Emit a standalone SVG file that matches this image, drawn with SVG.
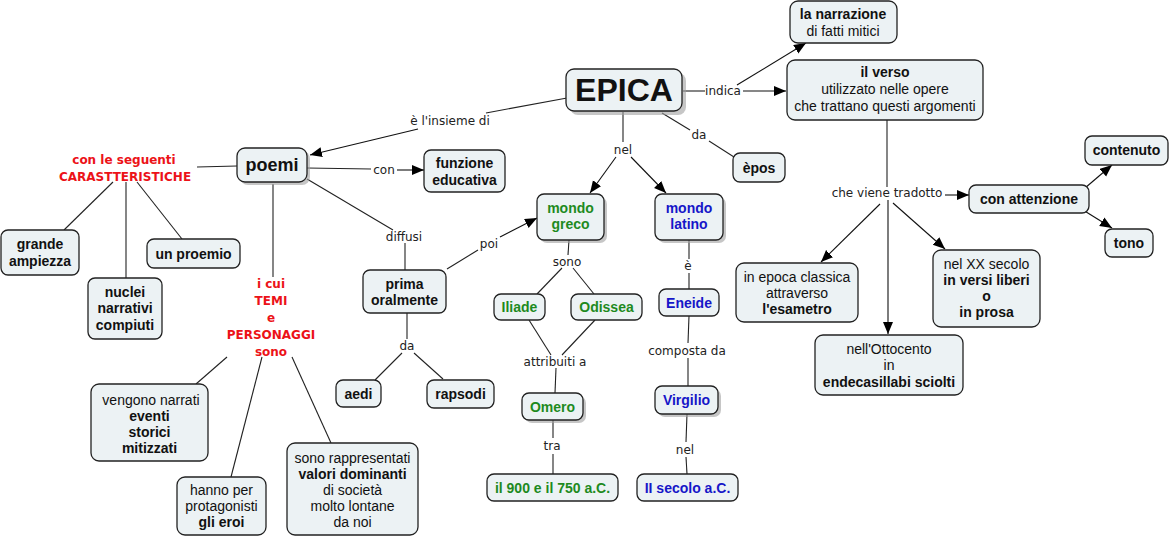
<svg xmlns="http://www.w3.org/2000/svg" width="1171" height="541" viewBox="0 0 1171 541">
<defs>
<marker id="arr" markerUnits="userSpaceOnUse" markerWidth="13" markerHeight="11" refX="12" refY="5" orient="auto">
<path d="M0,0 L12,5 L0,10 z" fill="#000"/>
</marker>
<style>
.n{fill:#ecf2f4;stroke:#222;stroke-width:1.3}
.sh{fill:#a0a0a0;opacity:0.6}
.t{font-family:"Liberation Sans",Arial,sans-serif;font-size:14px;fill:#111;text-anchor:middle}
.b{font-weight:bold}
.g{fill:#1e8a1e}
.bl{fill:#1616c8}
.l{font-family:"DejaVu Sans",Verdana,sans-serif;font-size:12px;fill:#222;text-anchor:middle}
.r{font-family:"DejaVu Sans",Verdana,sans-serif;font-size:12px;font-weight:bold;fill:#ec1218;text-anchor:middle}
.c{fill:none;stroke:#222;stroke-width:1.1}
.a{fill:none;stroke:#111;stroke-width:1.1;marker-end:url(#arr)}
</style>
</defs>
<rect width="1171" height="541" fill="#fff"/>

<g id="connectors">
<!-- EPICA -> poemi -->
<line class="c" x1="567" y1="98" x2="486" y2="113"/>
<line class="a" x1="418" y1="129" x2="310" y2="155"/>
<text class="l" x="450" y="125">è l'insieme di</text>
<!-- indica -->
<line class="c" x1="683" y1="91" x2="705" y2="91"/>
<line class="a" x1="743" y1="91" x2="786" y2="91"/>
<line class="a" x1="737" y1="85" x2="806" y2="43"/>
<text class="l" x="723" y="95">indica</text>
<!-- nel -->
<line class="c" x1="623" y1="112" x2="623" y2="142"/>
<line class="a" x1="616" y1="157" x2="590" y2="193"/>
<line class="a" x1="631" y1="157" x2="666" y2="193"/>
<text class="l" x="623" y="154">nel</text>
<!-- da epos -->
<line class="c" x1="662" y1="113" x2="690" y2="130"/>
<line class="c" x1="709" y1="141" x2="734" y2="157"/>
<text class="l" x="699" y="139">da</text>
<!-- con -->
<line class="c" x1="307" y1="168" x2="371" y2="169"/>
<line class="a" x1="397" y1="170" x2="424" y2="170"/>
<text class="l" x="384" y="174">con</text>
<!-- caratteristiche -->
<line class="c" x1="237" y1="166" x2="197" y2="167"/>
<line class="c" x1="113" y1="182" x2="64" y2="230"/>
<line class="c" x1="126" y1="182" x2="126" y2="278"/>
<line class="c" x1="137" y1="182" x2="182" y2="239"/>
<text class="r" x="124" y="164">con le seguenti</text>
<text class="r" x="125" y="181">CARASTTERISTICHE</text>
<!-- temi -->
<line class="c" x1="273" y1="184" x2="273" y2="277"/>
<line class="c" x1="227" y1="357" x2="196" y2="384"/>
<line class="c" x1="262" y1="357" x2="231" y2="477"/>
<line class="c" x1="292" y1="357" x2="331" y2="443"/>
<text class="r" x="271" y="288">i cui</text>
<text class="r" x="271" y="305">TEMI</text>
<text class="r" x="271" y="322">e</text>
<text class="r" x="271" y="339">PERSONAGGI</text>
<text class="r" x="271" y="356">sono</text>
<!-- diffusi -->
<line class="c" x1="307" y1="179" x2="393" y2="230"/>
<line class="c" x1="405" y1="243" x2="405" y2="270"/>
<text class="l" x="404" y="241">diffusi</text>
<!-- poi -->
<line class="c" x1="447" y1="269" x2="478" y2="250"/>
<line class="a" x1="500" y1="237" x2="537" y2="218"/>
<text class="l" x="489" y="248">poi</text>
<!-- da aedi rapsodi -->
<line class="c" x1="407" y1="313" x2="407" y2="339"/>
<line class="c" x1="402" y1="353" x2="375" y2="380"/>
<line class="c" x1="414" y1="353" x2="443" y2="379"/>
<text class="l" x="407" y="350">da</text>
<!-- sono -->
<line class="c" x1="569" y1="240" x2="568" y2="255"/>
<line class="c" x1="562" y1="268" x2="537" y2="294"/>
<line class="c" x1="573" y1="268" x2="594" y2="294"/>
<text class="l" x="567" y="266">sono</text>
<!-- attribuiti a -->
<line class="c" x1="529" y1="320" x2="551" y2="355"/>
<line class="c" x1="595" y1="320" x2="562" y2="355"/>
<line class="c" x1="556" y1="368" x2="555" y2="393"/>
<text class="l" x="555" y="366">attribuiti a</text>
<!-- tra -->
<line class="c" x1="553" y1="420" x2="553" y2="438"/>
<line class="c" x1="553" y1="454" x2="553" y2="474"/>
<text class="l" x="552" y="450">tra</text>
<!-- è -->
<line class="c" x1="689" y1="240" x2="689" y2="259"/>
<line class="c" x1="689" y1="273" x2="689" y2="289"/>
<text class="l" x="688" y="270">è</text>
<!-- composta da -->
<line class="c" x1="689" y1="316" x2="688" y2="343"/>
<line class="c" x1="688" y1="358" x2="688" y2="386"/>
<text class="l" x="687" y="355">composta da</text>
<!-- nel II secolo -->
<line class="c" x1="687" y1="414" x2="686" y2="442"/>
<line class="c" x1="686" y1="457" x2="687" y2="474"/>
<text class="l" x="685" y="454">nel</text>
<!-- che viene tradotto -->
<line class="c" x1="887" y1="120" x2="887" y2="187"/>
<line class="a" x1="945" y1="195" x2="969" y2="195"/>
<line class="a" x1="880" y1="204" x2="821" y2="262"/>
<line class="a" x1="888" y1="200" x2="888" y2="334"/>
<line class="a" x1="893" y1="203" x2="945" y2="249"/>
<text class="l" x="887" y="197">che viene tradotto</text>
<!-- con attenzione -->
<line class="a" x1="1085" y1="188" x2="1112" y2="165"/>
<line class="a" x1="1083" y1="210" x2="1112" y2="228"/>
</g>

<g id="n-epica">
<rect class="sh" x="570" y="73" width="116" height="42" rx="8"/>
<rect class="n" x="566" y="69" width="116" height="42" rx="8"/>
<text class="t b" x="624" y="101" style="font-size:32px">EPICA</text>
</g>
<g id="n-narrazione">
<rect class="n" x="790" y="1" width="107" height="42" rx="8"/>
<text class="t b" x="843" y="19">la narrazione</text>
<text class="t" x="843" y="36">di fatti mitici</text>
</g>
<g id="n-verso">
<rect class="n" x="787" y="60" width="196" height="60" rx="8"/>
<text class="t b" x="885" y="77">il verso</text>
<text class="t" x="885" y="94">utilizzato nelle opere</text>
<text class="t" x="885" y="111">che trattano questi argomenti</text>
</g>
<g id="n-epos">
<rect class="n" x="733" y="153" width="52" height="29" rx="7"/>
<text class="t b" x="759" y="173">èpos</text>
</g>
<g id="n-poemi">
<rect class="sh" x="240" y="151" width="70" height="34" rx="8"/>
<rect class="n" x="237" y="148" width="70" height="34" rx="8"/>
<text class="t b" x="272" y="171" style="font-size:18px">poemi</text>
</g>
<g id="n-funzione">
<rect class="n" x="424" y="150" width="81" height="42" rx="7"/>
<text class="t b" x="464.5" y="168">funzione</text>
<text class="t b" x="464.5" y="185">educativa</text>
</g>
<g id="n-grande">
<rect class="n" x="1" y="230" width="78" height="45" rx="7"/>
<text class="t b" x="40" y="249">grande</text>
<text class="t b" x="40" y="266">ampiezza</text>
</g>
<g id="n-proemio">
<rect class="n" x="147" y="239" width="93" height="29" rx="7"/>
<text class="t b" x="193.5" y="259">un proemio</text>
</g>
<g id="n-nuclei">
<rect class="n" x="88" y="278" width="74" height="61" rx="7"/>
<text class="t b" x="125" y="297">nuclei</text>
<text class="t b" x="125" y="313">narrativi</text>
<text class="t b" x="125" y="330">compiuti</text>
</g>
<g id="n-greco">
<rect class="sh" x="540" y="197" width="67" height="46" rx="7"/>
<rect class="n" x="537" y="194" width="67" height="46" rx="7"/>
<text class="t b g" x="570.5" y="213">mondo</text>
<text class="t b g" x="570.5" y="229">greco</text>
</g>
<g id="n-latino">
<rect class="sh" x="658" y="197" width="68" height="46" rx="7"/>
<rect class="n" x="655" y="194" width="68" height="46" rx="7"/>
<text class="t b bl" x="689" y="213">mondo</text>
<text class="t b bl" x="689" y="229">latino</text>
</g>
<g id="n-prima">
<rect class="n" x="363" y="270" width="83" height="43" rx="7"/>
<text class="t b" x="404.5" y="289">prima</text>
<text class="t b" x="404.5" y="305">oralmente</text>
</g>
<g id="n-aedi">
<rect class="n" x="336" y="380" width="45" height="27" rx="7"/>
<text class="t b" x="358.5" y="399">aedi</text>
</g>
<g id="n-rapsodi">
<rect class="n" x="427" y="380" width="67" height="28" rx="7"/>
<text class="t b" x="460.5" y="399">rapsodi</text>
</g>
<g id="n-iliade">
<rect class="n" x="494" y="294" width="51" height="26" rx="7"/>
<text class="t b g" x="519.5" y="312">Iliade</text>
</g>
<g id="n-odissea">
<rect class="n" x="571" y="294" width="71" height="26" rx="7"/>
<text class="t b g" x="606.5" y="312">Odissea</text>
</g>
<g id="n-eneide">
<rect class="n" x="659" y="289" width="60" height="27" rx="7"/>
<text class="t b bl" x="689" y="308">Eneide</text>
</g>
<g id="n-omero">
<rect class="sh" x="525" y="396" width="61" height="27" rx="7"/>
<rect class="n" x="522" y="393" width="61" height="27" rx="7"/>
<text class="t b g" x="552.5" y="412">Omero</text>
</g>
<g id="n-virgilio">
<rect class="sh" x="658" y="389" width="63" height="28" rx="7"/>
<rect class="n" x="655" y="386" width="63" height="28" rx="7"/>
<text class="t b bl" x="686.5" y="405">Virgilio</text>
</g>
<g id="n-900">
<rect class="n" x="487" y="474" width="131" height="27" rx="7"/>
<text class="t b g" x="552.5" y="493">il 900 e il 750 a.C.</text>
</g>
<g id="n-secolo">
<rect class="n" x="637" y="474" width="101" height="27" rx="7"/>
<text class="t b bl" x="687.5" y="493">II secolo a.C.</text>
</g>
<g id="n-vengono">
<rect class="n" x="91" y="384" width="117" height="77" rx="8"/>
<text class="t" x="151" y="405">vengono narrati</text>
<text class="t b" x="149.5" y="421">eventi</text>
<text class="t b" x="149.5" y="437">storici</text>
<text class="t b" x="149.5" y="453">mitizzati</text>
</g>
<g id="n-hanno">
<rect class="n" x="177" y="477" width="89" height="58" rx="8"/>
<text class="t" x="221.5" y="495">hanno per</text>
<text class="t" x="221.5" y="511">protagonisti</text>
<text class="t b" x="221.5" y="527">gli eroi</text>
</g>
<g id="n-sono">
<rect class="n" x="287" y="443" width="131" height="92" rx="8"/>
<text class="t" x="352.5" y="463">sono rappresentati</text>
<text class="t b" x="352.5" y="479">valori dominanti</text>
<text class="t" x="352.5" y="495">di società</text>
<text class="t" x="352.5" y="511">molto lontane</text>
<text class="t" x="352.5" y="527">da noi</text>
</g>
<g id="n-attenzione">
<rect class="n" x="969" y="185" width="120" height="28" rx="7"/>
<text class="t b" x="1029" y="204">con attenzione</text>
</g>
<g id="n-contenuto">
<rect class="n" x="1085" y="136" width="83" height="29" rx="7"/>
<text class="t b" x="1126.5" y="155">contenuto</text>
</g>
<g id="n-tono">
<rect class="n" x="1105" y="229" width="48" height="28" rx="7"/>
<text class="t b" x="1129" y="248">tono</text>
</g>
<g id="n-classica">
<rect class="n" x="736" y="263" width="122" height="59" rx="8"/>
<text class="t" x="797" y="282">in epoca classica</text>
<text class="t" x="797" y="298">attraverso</text>
<text class="t b" x="797" y="314">l'esametro</text>
</g>
<g id="n-xx">
<rect class="n" x="933" y="250" width="107" height="77" rx="8"/>
<text class="t" x="986.5" y="269">nel XX secolo</text>
<text class="t b" x="986.5" y="285">in versi liberi</text>
<text class="t b" x="986.5" y="301">o</text>
<text class="t b" x="986.5" y="317">in prosa</text>
</g>
<g id="n-ottocento">
<rect class="n" x="815" y="335" width="148" height="60" rx="8"/>
<text class="t" x="889" y="354">nell'Ottocento</text>
<text class="t" x="889" y="370">in</text>
<text class="t b" x="889" y="387">endecasillabi sciolti</text>
</g>
</svg>
